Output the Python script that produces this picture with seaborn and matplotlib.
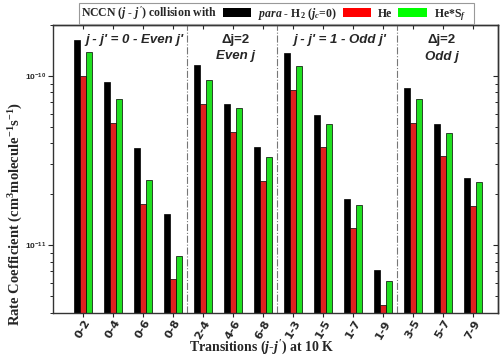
import numpy as np
import pandas as pd
import matplotlib
matplotlib.use("Agg")
import matplotlib.pyplot as plt
from matplotlib.patches import Patch
from matplotlib.ticker import LogLocator, NullFormatter, FixedLocator, FixedFormatter
import seaborn as sns

# transitions (j-j') and rate coefficients at 10 K (cm^3 molecule^-1 s^-1)
transitions = ["0-2", "0-4", "0-6", "0-8", "2-4", "4-6", "6-8",
               "1-3", "1-5", "1-7", "1-9", "3-5", "5-7", "7-9"]
para_h2 = [1.63e-10, 9.2e-11, 3.74e-11, 1.52e-11, 1.16e-10, 6.87e-11, 3.83e-11,
           1.37e-10, 5.88e-11, 1.88e-11, 7.1e-12, 8.53e-11, 5.23e-11, 2.49e-11]
he = [1.0e-10, 5.3e-11, 1.76e-11, 6.27e-12, 6.87e-11, 4.67e-11, 2.39e-11,
      8.23e-11, 3.81e-11, 1.26e-11, 4.46e-12, 5.3e-11, 3.36e-11, 1.71e-11]
he_sf = [1.39e-10, 7.35e-11, 2.42e-11, 8.6e-12, 9.5e-11, 6.45e-11, 3.3e-11,
         1.14e-10, 5.23e-11, 1.74e-11, 6.15e-12, 7.35e-11, 4.63e-11, 2.35e-11]
colliders = ["para-H2", "He", "He*Sf"]
colors = ["#000000", "#ff0000", "#00ff00"]

# group headers and where the groups split
group_titles = ["j - j' = 0 - Even j'", "j - j' = 1 - Odd j'"]
delta_titles = [("\u0394j=2", "Even j"), ("\u0394j=2", "Odd j")]
group_breaks = [3.45, 6.45, 10.45]

df = pd.DataFrame({
    "transition": transitions * 3,
    "rate": para_h2 + he + he_sf,
    "collider": [c for c in colliders for _ in transitions],
})

sns.set_style("ticks")
plt.rcParams["font.family"] = ["Liberation Sans", "DejaVu Sans"]
plt.rcParams["mathtext.fontset"] = "custom"
plt.rcParams["mathtext.rm"] = "Liberation Serif:bold"
plt.rcParams["mathtext.it"] = "Liberation Serif:italic:bold"
plt.rcParams["mathtext.bf"] = "Liberation Serif:bold"
plt.rcParams["mathtext.sf"] = "Liberation Sans:bold"
serif = ["Liberation Serif", "DejaVu Serif"]

fig = plt.figure(figsize=(5, 3.59), dpi=100)
ax = fig.add_axes([0.106, 0.1295, 0.89, 0.8005])

sns.barplot(data=df, x="transition", y="rate", hue="collider", palette=colors,
            width=0.6, edgecolor="black", linewidth=0.5, errorbar=None,
            legend=False, ax=ax)
ax.set_yscale("log")
ax.set_ylim(4e-12, 2e-10)
ax.set_xlim(-1.0, 13.83)

# y ticks
ax.yaxis.set_major_locator(FixedLocator([1e-11, 1e-10]))
ax.yaxis.set_major_formatter(FixedFormatter([r"$\mathsf{10^{-11}}$", r"$\mathsf{10^{-10}}$"]))
ax.yaxis.set_minor_locator(LogLocator(base=10, subs=np.arange(2, 10)))
ax.yaxis.set_minor_formatter(NullFormatter())
ax.tick_params(axis="y", which="major", direction="out", length=3.5, width=0.8, labelsize=6, pad=1.5)
ax.tick_params(axis="y", which="minor", direction="out", length=2, width=0.7)
ax.tick_params(axis="x", direction="out", length=3, width=0.8, labelsize=8, pad=1)
for lab in ax.get_xticklabels():
    lab.set_rotation(60)
    lab.set_fontweight("bold")
    lab.set_family("DejaVu Sans")

# mirrored ticks pointing inward on top and right
top = ax.secondary_xaxis("top")
top.set_xticks(range(len(transitions)))
top.tick_params(direction="in", length=3, width=0.8, labeltop=False)
right = ax.secondary_yaxis("right")
right.yaxis.set_major_locator(FixedLocator([1e-11, 1e-10]))
right.yaxis.set_minor_locator(LogLocator(base=10, subs=np.arange(2, 10)))
right.tick_params(which="major", direction="in", length=3.5, width=0.8, labelright=False)
right.tick_params(which="minor", direction="in", length=2, width=0.7, labelright=False)

for sp in list(ax.spines.values()) + [top.spines["top"], right.spines["right"]]:
    sp.set_color("#333333")
    sp.set_linewidth(1.0)

for xb in group_breaks:
    ax.axvline(xb, color="#777777", lw=0.8, ls="-.")

ital = dict(fontsize=9.5, fontweight="bold", fontstyle="italic", ha="center", va="center")
upright = dict(fontsize=9.5, fontweight="bold", ha="center", va="center")
ax.text(1.72, 1.63e-10, group_titles[0], **ital)
ax.text(8.56, 1.63e-10, group_titles[1], **ital)
ax.text(5.08, 1.63e-10, delta_titles[0][0], **upright)
ax.text(5.08, 1.31e-10, delta_titles[0][1], **ital)
ax.text(11.95, 1.63e-10, delta_titles[1][0], **upright)
ax.text(11.95, 1.29e-10, delta_titles[1][1], **ital)

ax.set_xlabel("")
ax.set_ylabel("")
fig.text(0.524, 0.03, "Transitions ($j$-$j'$) at 10 K", fontsize=10, fontweight="bold",
         family=serif, ha="center", va="center")
fig.text(0.031, 0.405, "Rate Coefficient (cm$^3$molecule$^{-1}$s$^{-1}$)", rotation=90,
         fontsize=10.5, fontweight="bold", family=serif, ha="center", va="center")

# legend laid out as text then swatch, as in the original
handles = [Patch(fc=colors[0], ec="none"), Patch(fc=colors[1], ec="none"),
           Patch(fc=colors[2], ec="none"), Patch(fc="none", ec="none")]
labels = ["NCCN ($j$ - $j'$) collision with", r"$para$ - H$_2$ ($j_c$=0)", "He", r"He*S$_f$"]
leg = ax.legend(handles, labels, ncol=4, markerfirst=False, loc="upper center",
                bbox_to_anchor=(0.553, 0.992), bbox_transform=fig.transFigure,
                fancybox=False, framealpha=1, edgecolor="#999999",
                handlelength=2.4, handleheight=0.85, handletextpad=0.5,
                columnspacing=0.6, borderpad=0.15, borderaxespad=0,
                prop={"family": serif, "weight": "bold", "size": 8.5})
leg.get_frame().set_linewidth(0.8)
last = leg._legend_handle_box.get_children()[-1].get_children()[-1]
last.get_children()[-1].width = 0

fig.savefig("out.png", dpi=100)
